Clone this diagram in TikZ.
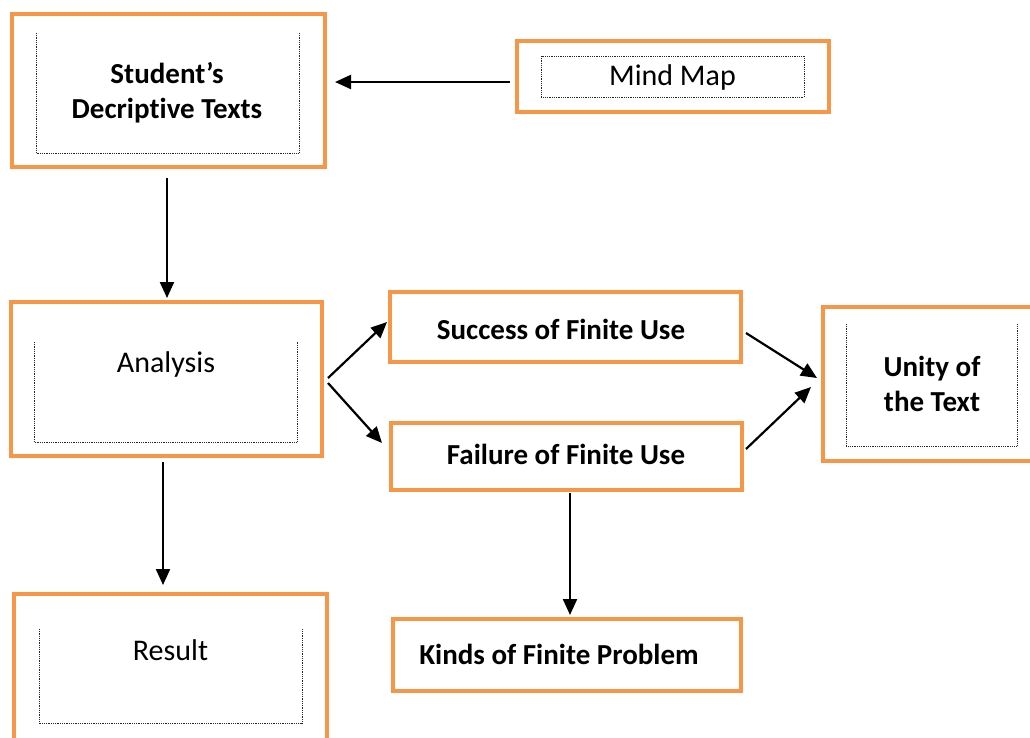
\documentclass[tikz,border=0pt]{standalone}
\usepackage{fontspec}
\setmainfont{Carlito}[Ligatures={NoCommon,NoRare,NoContextual}]
\usetikzlibrary{arrows.meta,calc}
\definecolor{boxorange}{HTML}{F79646}
\tikzset{
  obox/.style={draw=boxorange, line width=4.5pt, inner sep=0pt, outer sep=0pt, fill=white},
  blbl/.style={font=\fontsize{29}{35}\selectfont\bfseries, align=center, inner sep=0pt},
  rlbl/.style={font=\fontsize{30}{36}\selectfont, inner sep=0pt},
  arr/.style={line width=2.2pt, -{Triangle[length=16pt,width=14pt]}},
  innerline/.style={line width=0.8pt, dash pattern=on 0.9pt off 0.9pt, black!85}
}
\begin{document}
\begin{tikzpicture}[x=1pt,y=-1pt]
\useasboundingbox (0,0) rectangle (1030,737);
\clip (0,0) rectangle (1030,737);
\fill[white] (0,0) rectangle (1030,737);
% boxes
\node[obox, minimum width=313pt, minimum height=153pt] (stud) at (168.5,90.5) {};
\node[obox, minimum width=312pt, minimum height=71pt]  (mm)   at (673,76.5) {};
\node[obox, minimum width=311pt, minimum height=154pt] (ana)  at (166.5,379) {};
\node[obox, minimum width=351pt, minimum height=70pt]  (suc)  at (565.5,327) {};
\node[obox, minimum width=351pt, minimum height=67pt]  (fail) at (566.5,456.5) {};
\node[obox, minimum width=222pt, minimum height=154pt] (uni)  at (934,384) {};
\node[obox, minimum width=313pt, minimum height=156pt] (res)  at (170.5,672) {};
\node[obox, minimum width=348pt, minimum height=72pt]  (kind) at (567,655) {};
% inner dotted frames
\draw[innerline] (36,33) -- (36,153) -- (299,153) -- (299,33);
\draw[innerline] (541,56) rectangle (804,97);
\draw[innerline] (34,342) -- (34,442) -- (297,442) -- (297,342);
\draw[innerline] (846,324) -- (846,446) -- (1017,446) -- (1017,324);
\draw[innerline] (39,629) -- (39,723) -- (302,723) -- (302,629);
% labels
\node[blbl] (tstud) at (167,92.5) {Student’s\\Decript\kern0pt ive Texts};
\node[rlbl, anchor=base] (tmm) at (672.5,85) {Mind Map};
\node[rlbl, anchor=base] (tana) at (166,372) {Analysis};
\node[blbl, anchor=base] (tsuc) at (561,339) {Success of Finite Use};
\node[blbl, anchor=base] (tfail) at (566,464) {Failure of Finite Use};
\node[blbl] (tuni) at (932,383.5) {Unity of\\the Text};
\node[rlbl, anchor=base] (tres) at (170.5,660) {Result};
\node[blbl, anchor=base] (tkind) at (559,664) {Kinds of Finite Problem};
% connectors
\draw[arr] ($(mm.west)+(-7,5.5)$) -- ($(stud.east)+(10,-8.5)$);
\draw[arr] ($(stud.south)+(-1.5,11)$) -- ($(ana.north)+(0.5,-4)$);
\draw[arr] ($(ana.east)+(6,-1)$) -- ($(suc.west)+(-3,-5)$);
\draw[arr] ($(ana.east)+(6,4)$) -- ($(fail.west)+(-9,-13.5)$);
\draw[arr] ($(suc.east)+(5,6)$) -- ($(uni.west)+(-6,-6)$);
\draw[arr] ($(fail.east)+(4,-7.5)$) -- ($(uni.west)+(-12,3)$);
\draw[arr] ($(ana.south)+(-3.5,6)$) -- ($(res.north)+(-7.5,-9)$);
\draw[arr] ($(fail.south)+(3.5,3)$) -- ($(kind.north)+(3,-4)$);
\end{tikzpicture}
\end{document}
